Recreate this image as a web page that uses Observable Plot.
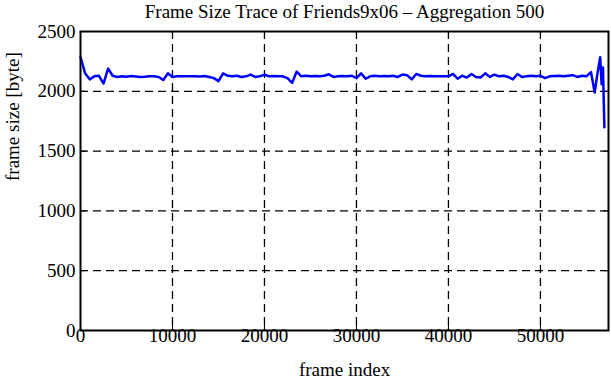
<!DOCTYPE html>
<html>
<head>
<meta charset="utf-8">
<script src="https://cdn.jsdelivr.net/npm/d3@7"></script>
<script src="https://cdn.jsdelivr.net/npm/@observablehq/plot@0.6"></script>
<style>
  html, body { margin: 0; padding: 0; background: white; }
</style>
</head>
<body>
<div id="chart"></div>
<script>
const titleText = "Frame Size Trace of Friends9x06 \u2013 Aggregation 500";
const xLabelText = "frame index";
const yLabelText = "frame size [byte]";

const frameIndex = [
  0, 500, 1000, 1500, 2000, 2500, 3000, 3500, 4000, 4500,
  5000, 5500, 6000, 6500, 7000, 7500, 8000, 8500, 9000, 9500,
  10000, 10500, 11000, 11500, 12000, 12500, 13000, 13500, 14000, 14500,
  15000, 15500, 16000, 16500, 17000, 17500, 18000, 18500, 19000, 19500,
  20000, 20500, 21000, 21500, 22000, 22500, 23000, 23500, 24000, 24500,
  25000, 25500, 26000, 26500, 27000, 27500, 28000, 28500, 29000, 29500,
  30000, 30500, 31000, 31500, 32000, 32500, 33000, 33500, 34000, 34500,
  35000, 35500, 36000, 36500, 37000, 37500, 38000, 38500, 39000, 39500,
  40000, 40500, 41000, 41500, 42000, 42500, 43000, 43500, 44000, 44500,
  45000, 45500, 46000, 46500, 47000, 47500, 48000, 48500, 49000, 49500,
  50000, 50500, 51000, 51500, 52000, 52500, 53000, 53500, 54000, 54500,
  55000, 55500, 55900, 56200, 56500, 56650, 56800, 56950
];
const frameSize = [
  2285, 2150, 2100, 2125, 2130, 2065, 2190, 2130, 2120, 2125,
  2122, 2128, 2124, 2120, 2122, 2126, 2125, 2120, 2095, 2150,
  2120, 2125, 2125, 2126, 2125, 2125, 2124, 2128, 2120, 2110,
  2085, 2150, 2130, 2125, 2130, 2120, 2125, 2140, 2120, 2125,
  2140, 2125, 2128, 2125, 2125, 2110, 2070, 2165, 2125, 2130,
  2125, 2128, 2125, 2130, 2142, 2120, 2125, 2128, 2125, 2130,
  2110, 2150, 2105, 2125, 2130, 2125, 2128, 2125, 2130, 2120,
  2140, 2135, 2100, 2145, 2130, 2125, 2128, 2125, 2125, 2125,
  2125, 2145, 2105, 2130, 2115, 2145, 2120, 2115, 2150, 2120,
  2140, 2125, 2130, 2120, 2100, 2145, 2120, 2125, 2130, 2125,
  2130, 2110, 2125, 2128, 2130, 2125, 2130, 2135, 2120, 2130,
  2125, 2160, 1990, 2150, 2285, 2060, 2200, 1700
];
const xTicks = [0, 10000, 20000, 30000, 40000, 50000];
const yTicks = [0, 500, 1000, 1500, 2000, 2500];
const xGrid = [10000, 20000, 30000, 40000, 50000];
const yGrid = [500, 1000, 1500, 2000];

const data = frameIndex.map((f, i) => ({frame: f, size: frameSize[i]}));

const FS = 19;
const chart = Plot.plot({
  width: 611,
  height: 380,
  marginLeft: 80,
  marginRight: 3,
  marginTop: 31,
  marginBottom: 50,
  style: {fontFamily: "'Liberation Serif', 'DejaVu Serif', serif", fontSize: FS + "px", color: "black", background: "white"},
  x: {domain: [0, 57400]},
  y: {domain: [0, 2500]},
  marks: [
    Plot.gridX(xGrid, {stroke: "black", strokeOpacity: 1, strokeWidth: 1.3, strokeDasharray: "8,5"}),
    Plot.gridY(yGrid, {stroke: "black", strokeOpacity: 1, strokeWidth: 1.3, strokeDasharray: "8,5"}),
    Plot.axisX(xTicks, {anchor: "bottom", tickSize: -6, tickPadding: 4, label: null, tickFormat: d => String(d), fontSize: FS}),
    Plot.axisX(xTicks, {anchor: "top", tickSize: -6, label: null, tickFormat: () => ""}),
    Plot.axisY(yTicks, {anchor: "left", tickSize: -6, tickPadding: 11, label: null, tickFormat: d => String(d), fontSize: FS}),
    Plot.axisY(yTicks, {anchor: "right", tickSize: -6, label: null, tickFormat: () => ""}),
    Plot.line(data, {x: "frame", y: "size", stroke: "#0000ff", strokeWidth: 2.5}),
    Plot.frame({stroke: "black", strokeWidth: 2}),
    Plot.text([titleText], {text: d => d, frameAnchor: "top", lineAnchor: "middle", dy: -20, fontSize: FS}),
    Plot.text([xLabelText], {text: d => d, frameAnchor: "bottom", lineAnchor: "middle", dy: 39, fontSize: FS}),
    Plot.text([yLabelText], {text: d => d, frameAnchor: "left", lineAnchor: "middle", rotate: -90, dx: -68, fontSize: FS})
  ]
});
document.getElementById("chart").appendChild(chart);
</script>
</body>
</html>
